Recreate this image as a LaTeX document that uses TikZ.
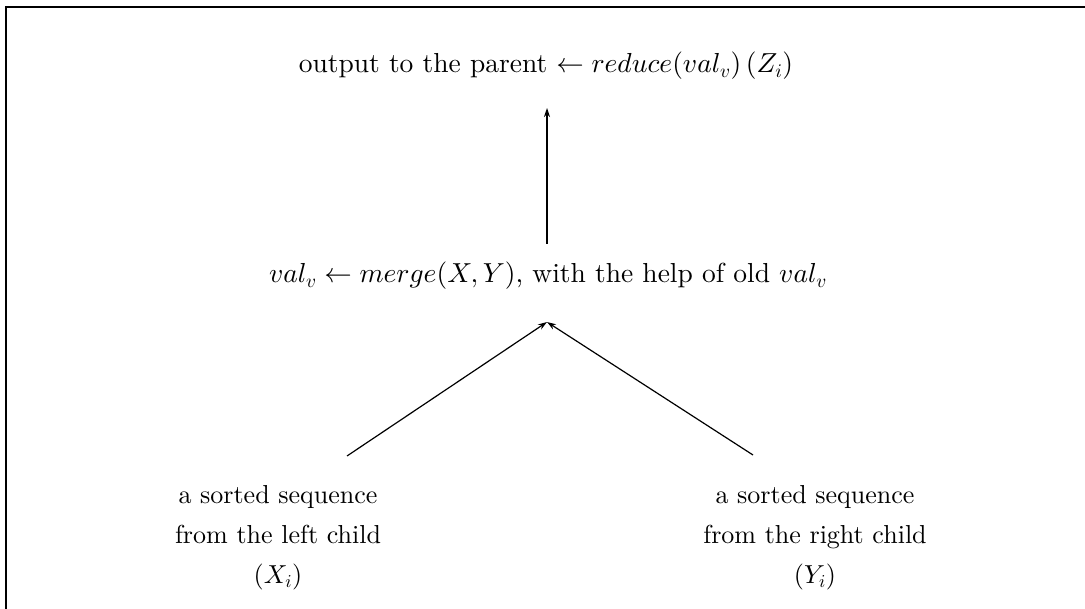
\documentclass[tikz,border=0pt]{standalone}
\usetikzlibrary{arrows.meta}
\DeclareFontFamily{TU}{lmten}{}
\DeclareFontShape{TU}{lmten}{m}{n}{<-> "[lmroman10-regular]:mapping=tex-text"}{}
\DeclareFontShape{OML}{cmm}{m}{it}{<-> cmmi10}{}
\DeclareFontShape{OMS}{cmsy}{m}{n}{<-> cmsy10}{}
\DeclareFontShape{OT1}{cmr}{m}{n}{<-> cmr10}{}
\begin{document}
\begin{tikzpicture}[x=1pt,y=-1pt,
  lbl/.style={inner sep=0pt,font=\fontfamily{lmten}\fontsize{26}{40}\selectfont,align=center},
  biglbl/.style={inner sep=0pt,font=\fontfamily{lmten}\fontsize{27.5}{40}\selectfont},
  arr/.style={line width=1.2pt,-{Stealth[length=9pt,width=6pt]}},
  frame/.style={line width=1.6pt}]
\useasboundingbox (0,0) rectangle (1085,609);
\draw[frame] (6,609) -- (6,7) -- (1085,7);
\node[biglbl,anchor=base] (top) at (546,73) {output to the parent $\leftarrow reduce(val_v)\,(Z_i)$};
\node[biglbl,anchor=base] (mid) at (548,283) {$val_v \leftarrow merge(X,Y)$, with the help of old $val_v$};
\node[lbl,anchor=north] (left) at (278,485) {a sorted sequence\\from the left child\\$(X_i)$};
\node[lbl,anchor=north] (right) at (815,485) {a sorted sequence\\from the right child\\$(Y_i)$};
\coordinate (apex) at (547,322);
\coordinate (ls) at (347,456);
\coordinate (rs) at (753,455);
\coordinate (vs) at (547,244);
\coordinate (vt) at (547,108);
\draw[arr] (vs) -- (vt);
\draw[arr] (ls) -- (apex);
\draw[arr] (rs) -- (apex);
\end{tikzpicture}
\end{document}
